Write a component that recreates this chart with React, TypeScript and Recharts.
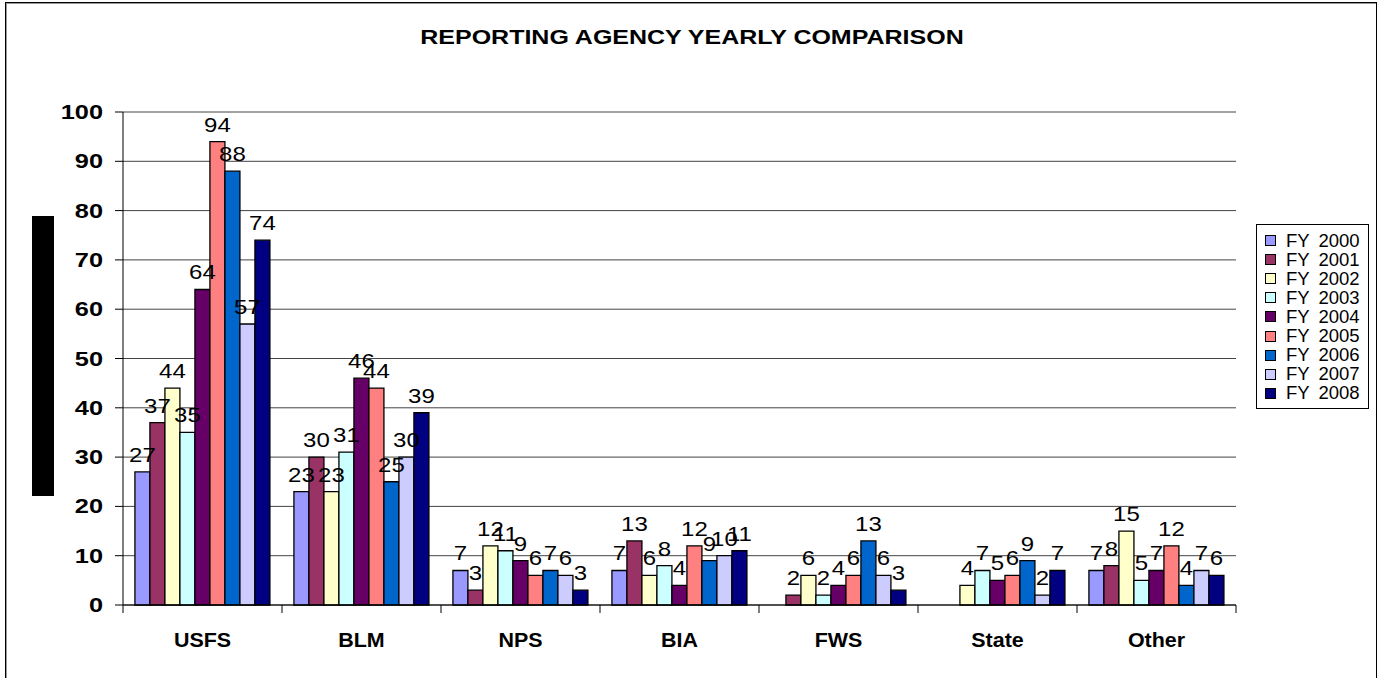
import { BarChart, Bar, XAxis, YAxis, CartesianGrid, Legend, LabelList } from 'recharts';

const agencies = ['USFS', 'BLM', 'NPS', 'BIA', 'FWS', 'State', 'Other'];

// one list per fiscal year, in agency order (null = no bar)
const fy2000 = [27, 23, 7, 7, null, null, 7];
const fy2001 = [37, 30, 3, 13, 2, null, 8];
const fy2002 = [44, 23, 12, 6, 6, 4, 15];
const fy2003 = [35, 31, 11, 8, 2, 7, 5];
const fy2004 = [64, 46, 9, 4, 4, 5, 7];
const fy2005 = [94, 44, 6, 12, 6, 6, 12];
const fy2006 = [88, 25, 7, 9, 13, 9, 4];
const fy2007 = [57, 30, 6, 10, 6, 2, 7];
const fy2008 = [74, 39, 3, 11, 3, 7, 6];

const years = ['FY 2000', 'FY 2001', 'FY 2002', 'FY 2003', 'FY 2004', 'FY 2005', 'FY 2006', 'FY 2007', 'FY 2008'];
const yearColors = ['#9999FF', '#993366', '#FFFFCC', '#CCFFFF', '#660066', '#FF8080', '#0066CC', '#CCCCFF', '#000080'];
const yTicks = [0, 10, 20, 30, 40, 50, 60, 70, 80, 90, 100];

const seriesValues = [fy2000, fy2001, fy2002, fy2003, fy2004, fy2005, fy2006, fy2007, fy2008];

const tableData = agencies.map((agency, i) => {
  const row: Record<string, string | number | null> = { agency };
  seriesValues.forEach((vals, s) => {
    row['y' + s] = vals[i];
  });
  return row;
});

const FONT = 'Arial, "Liberation Sans", sans-serif';
const PLOT_LEFT = 123;
const PLOT_RIGHT = 1236;
const HALF_BAND = (PLOT_RIGHT - PLOT_LEFT) / agencies.length / 2;

const YTick = (props: any) => {
  const { x, y, payload } = props;
  return (
    <text
      transform={`translate(${x},${y}) scale(1.3,1)`}
      textAnchor="end"
      dy="0.36em"
      fontSize={19.5}
      fontWeight="bold"
      fontFamily={FONT}
      fill="#000"
    >
      {payload.value}
    </text>
  );
};

const AgencyTick = (props: any) => {
  const { x, y, payload, index } = props;
  return (
    <g>
      <line x1={x - HALF_BAND} x2={x - HALF_BAND} y1={y} y2={y + 8} stroke="#000" />
      {index === agencies.length - 1 && (
        <line x1={x + HALF_BAND} x2={x + HALF_BAND} y1={y} y2={y + 8} stroke="#000" />
      )}
      <text
        transform={`translate(${x},${y + 42}) scale(1.1,1)`}
        textAnchor="middle"
        fontSize={19.5}
        fontWeight="bold"
        fontFamily={FONT}
        fill="#000"
      >
        {payload.value}
      </text>
    </g>
  );
};

const BarValue = (props: any) => {
  const { x, y, width, value } = props;
  if (value == null) return null;
  return (
    <text
      transform={`translate(${x + width / 2},${y - 10}) scale(1.2,1)`}
      textAnchor="middle"
      fontSize={20}
      fontFamily={FONT}
      fill="#000"
    >
      {value}
    </text>
  );
};

const YearLegend = () => (
  <div
    style={{
      width: 113,
      height: 185,
      border: '1px solid #000',
      background: '#fff',
      padding: '6px 0 0 8px',
      boxSizing: 'border-box',
      fontFamily: FONT,
      fontSize: 18.5,
    }}
  >
    {years.map((yr, i) => (
      <div key={yr} style={{ display: 'flex', alignItems: 'center', height: 19.1 }}>
        <span
          style={{
            width: 9,
            height: 9,
            background: yearColors[i],
            border: '1px solid #000',
            marginRight: 10,
            flex: 'none',
          }}
        />
        <span style={{ wordSpacing: 4, whiteSpace: 'pre' }}>{yr}</span>
      </div>
    ))}
  </div>
);

export default function App() {
  return (
    <div
      style={{
        position: 'absolute',
        left: 0,
        top: 0,
        width: 1377,
        height: 678,
        overflow: 'hidden',
        background: '#fff',
        fontFamily: FONT,
      }}
    >
      <div
        style={{
          position: 'absolute',
          left: 5,
          top: 2,
          width: 1370,
          height: 720,
          border: '1px solid #000',
          boxShadow: '1px 1px 0 #999 inset',
        }}
      />
      <div
        style={{
          position: 'absolute',
          left: 0,
          top: 25,
          width: 1384,
          textAlign: 'center',
          fontSize: 21,
          fontWeight: 'bold',
          transform: 'scaleX(1.19)',
        }}
      >
        REPORTING AGENCY YEARLY COMPARISON
      </div>
      <div style={{ position: 'absolute', left: 32, top: 216, width: 22, height: 280, background: '#000' }} />
      <BarChart
        width={1377}
        height={678}
        data={tableData}
        margin={{ top: 112, right: 141, left: 0, bottom: 0 }}
        barCategoryGap="7.5%"
        barGap={0}
      >
        <CartesianGrid vertical={false} stroke="#444" />
        <XAxis
          dataKey="agency"
          height={73}
          interval={0}
          axisLine={{ stroke: '#000' }}
          tickLine={false}
          tickSize={0}
          tickMargin={0}
          tick={<AgencyTick />}
        />
        <YAxis
          width={123}
          domain={[0, 100]}
          ticks={yTicks}
          interval={0}
          axisLine={{ stroke: '#000' }}
          tickLine={{ stroke: '#000' }}
          tickSize={8}
          tickMargin={12}
          tick={<YTick />}
        />
        <Legend
          layout="vertical"
          align="center"
          verticalAlign="middle"
          wrapperStyle={{ left: 1256, top: 224, width: 113 }}
          content={<YearLegend />}
        />
        {years.map((yr, s) => (
          <Bar
            key={yr}
            dataKey={'y' + s}
            name={yr}
            fill={yearColors[s]}
            stroke="#000"
            strokeWidth={1.3}
            isAnimationActive={false}
          >
            <LabelList dataKey={'y' + s} content={<BarValue />} />
          </Bar>
        ))}
      </BarChart>
    </div>
  );
}
